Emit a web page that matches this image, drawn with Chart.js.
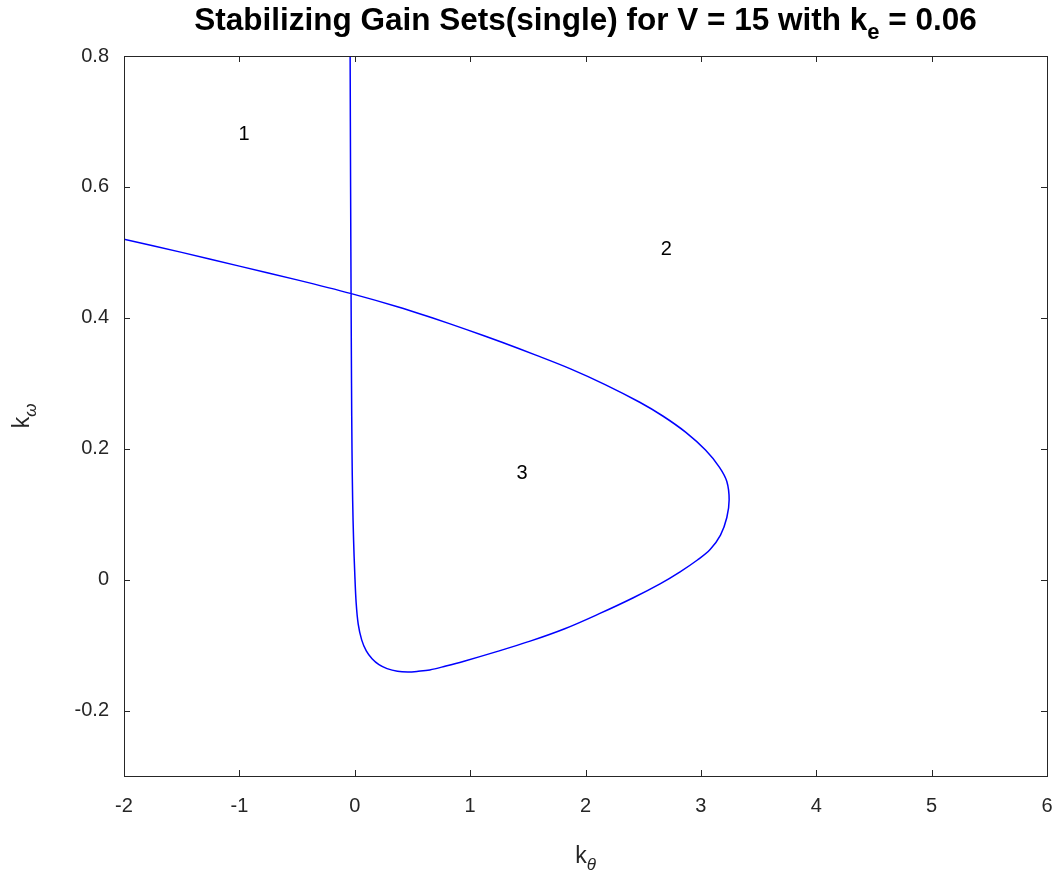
<!DOCTYPE html>
<html lang="en">
<head>
    <meta charset="UTF-8">
    <title>Stabilizing Gain Sets(single) for V = 15 with ke = 0.06</title>
    <style>
        html, body {
            margin: 0;
            padding: 0;
            background: #ffffff;
        }
        #gainChart {
            display: block;
        }
    </style>
</head>
<body>
    <canvas id="gainChart" width="1061" height="884"></canvas>

    <script src="https://cdn.jsdelivr.net/npm/chart.js"></script>
    <script>
        // boundary curve of the stabilizing region (k_theta, k_omega)
        const kTheta = [
            -0.040, -0.036, -0.032, -0.028, -0.024, -0.018, -0.010, 0.000, 0.012, 0.030,
            0.06, 0.10, 0.15, 0.21, 0.28, 0.37, 0.46, 0.55, 0.65, 0.79,
            0.94, 1.23, 1.52, 1.82, 2.12, 2.41, 2.65, 2.82, 2.97, 3.08,
            3.17, 3.225, 3.245, 3.225, 3.16, 3.04, 2.87, 2.67, 2.47, 2.17,
            1.87, 1.57, 1.27, 0.97, 0.67, 0.37, -0.03, -0.50, -1.00, -1.50,
            -2.00
        ];
        const kOmega = [
            0.80, 0.60, 0.44, 0.30, 0.20, 0.12, 0.06, 0.01, -0.035, -0.068,
            -0.092, -0.109, -0.121, -0.130, -0.136, -0.140, -0.141, -0.140, -0.138, -0.132,
            -0.125, -0.110, -0.094, -0.075, -0.052, -0.028, -0.006, 0.012, 0.030, 0.046,
            0.068, 0.095, 0.122, 0.150, 0.172, 0.198, 0.225, 0.250, 0.271, 0.298,
            0.322, 0.343, 0.363, 0.382, 0.400, 0.417, 0.437, 0.458, 0.479, 0.500,
            0.520
        ];

        // region numbers written inside the plot
        const regionText = ['1', '2', '3'];
        const regionX = [-0.96, 2.70, 1.45];
        const regionY = [0.68, 0.505, 0.162];

        const xRange = [-2, 6];
        const yRange = [-0.3, 0.8];
        const yTicks = [-0.2, 0, 0.2, 0.4, 0.6, 0.8];

        const inkColor = '#262626';
        const fontFamily = '"Liberation Sans", Arial, Helvetica, sans-serif';

        // draws box, inward ticks, title, axis labels and region numbers
        const matlabAxes = {
            id: 'matlabAxes',
            afterDatasetsDraw(chart) {
                const ctx = chart.ctx;
                const area = chart.chartArea;
                const xs = chart.scales.x;
                const ys = chart.scales.y;
                const tickLen = 6;

                ctx.save();
                ctx.strokeStyle = inkColor;
                ctx.lineWidth = 1;

                ctx.beginPath();
                xs.ticks.forEach(t => {
                    const px = Math.round(xs.getPixelForValue(t.value)) + 0.5;
                    ctx.moveTo(px, area.bottom);
                    ctx.lineTo(px, area.bottom - tickLen);
                    ctx.moveTo(px, area.top);
                    ctx.lineTo(px, area.top + tickLen);
                });
                ys.ticks.forEach(t => {
                    const py = Math.round(ys.getPixelForValue(t.value)) + 0.5;
                    ctx.moveTo(area.left, py);
                    ctx.lineTo(area.left + tickLen, py);
                    ctx.moveTo(area.right, py);
                    ctx.lineTo(area.right - tickLen, py);
                });
                ctx.stroke();

                ctx.strokeRect(Math.round(area.left) + 0.5, Math.round(area.top) + 0.5,
                    Math.round(area.right - area.left), Math.round(area.bottom - area.top));

                // region numbers
                ctx.fillStyle = '#000000';
                ctx.font = '20px ' + fontFamily;
                ctx.textAlign = 'center';
                ctx.textBaseline = 'middle';
                regionText.forEach((txt, i) => {
                    ctx.fillText(txt, xs.getPixelForValue(regionX[i]), ys.getPixelForValue(regionY[i]));
                });

                // title with subscript e
                const midX = (area.left + area.right) / 2;
                ctx.fillStyle = '#000000';
                ctx.textBaseline = 'alphabetic';
                ctx.textAlign = 'left';
                const boldMain = 'bold 31.5px ' + fontFamily;
                const boldSub = 'bold 22px ' + fontFamily;
                const part1 = 'Stabilizing Gain Sets(single) for V = 15 with k';
                const part2 = 'e';
                const part3 = ' = 0.06';
                ctx.font = boldMain;
                const w1 = ctx.measureText(part1).width;
                const w3 = ctx.measureText(part3).width;
                ctx.font = boldSub;
                const w2 = ctx.measureText(part2).width;
                let tx = midX - (w1 + w2 + w3) / 2;
                const ty = 30;
                ctx.font = boldMain;
                ctx.fillText(part1, tx, ty);
                tx += w1;
                ctx.font = boldSub;
                ctx.fillText(part2, tx, ty + 9);
                tx += w2;
                ctx.font = boldMain;
                ctx.fillText(part3, tx, ty);

                // x axis label k_theta
                ctx.fillStyle = inkColor;
                ctx.font = '23px ' + fontFamily;
                const kw = ctx.measureText('k').width;
                ctx.font = 'italic 17px ' + fontFamily;
                const thw = ctx.measureText('\u03B8').width;
                let lx = midX - (kw + thw) / 2;
                const ly = 863;
                ctx.font = '23px ' + fontFamily;
                ctx.fillText('k', lx, ly);
                ctx.font = 'italic 17px ' + fontFamily;
                ctx.fillText('\u03B8', lx + kw, ly + 7);

                // y axis label k_omega, rotated
                const midY = (area.top + area.bottom) / 2;
                ctx.translate(29, midY);
                ctx.rotate(-Math.PI / 2);
                ctx.font = '23px ' + fontFamily;
                const kw2 = ctx.measureText('k').width;
                ctx.font = 'italic 17px ' + fontFamily;
                const omw = ctx.measureText('\u03C9').width;
                lx = -(kw2 + omw) / 2;
                ctx.font = '23px ' + fontFamily;
                ctx.fillText('k', lx, 0);
                ctx.font = 'italic 17px ' + fontFamily;
                ctx.fillText('\u03C9', lx + kw2, 7);

                ctx.restore();
            }
        };

        function drawChart() {
            const ctx = document.getElementById('gainChart').getContext('2d');
            const points = kTheta.map((x, i) => ({ x: x, y: kOmega[i] }));

            new Chart(ctx, {
                type: 'scatter',
                data: {
                    datasets: [{
                        data: points,
                        showLine: true,
                        borderColor: '#0000ff',
                        borderWidth: 1.5,
                        pointRadius: 0,
                        tension: 0.35,
                        fill: false
                    }]
                },
                options: {
                    responsive: false,
                    animation: false,
                    layout: {
                        padding: { top: 56, right: 14, left: 0, bottom: 0 }
                    },
                    plugins: {
                        legend: { display: false },
                        title: { display: false },
                        tooltip: { enabled: false }
                    },
                    scales: {
                        x: {
                            type: 'linear',
                            min: xRange[0],
                            max: xRange[1],
                            grid: { display: false, drawTicks: false },
                            border: { display: false },
                            ticks: {
                                stepSize: 1,
                                padding: 18,
                                color: inkColor,
                                font: { family: fontFamily, size: 20 }
                            },
                            afterFit(scale) {
                                scale.height = 108;
                                scale.paddingLeft = 0;
                                scale.paddingRight = 0;
                            }
                        },
                        y: {
                            type: 'linear',
                            min: yRange[0],
                            max: yRange[1],
                            grid: { display: false, drawTicks: false },
                            border: { display: false },
                            afterBuildTicks(scale) {
                                scale.ticks = yTicks.map(v => ({ value: v }));
                            },
                            ticks: {
                                padding: 15,
                                color: inkColor,
                                font: { family: fontFamily, size: 20 },
                                callback: v => (v === 0 ? '0' : String(v))
                            },
                            afterFit(scale) {
                                scale.width = 124;
                                scale.paddingTop = 0;
                                scale.paddingBottom = 0;
                            }
                        }
                    }
                },
                plugins: [matlabAxes]
            });
        }

        document.addEventListener('DOMContentLoaded', drawChart);
    </script>
</body>
</html>
